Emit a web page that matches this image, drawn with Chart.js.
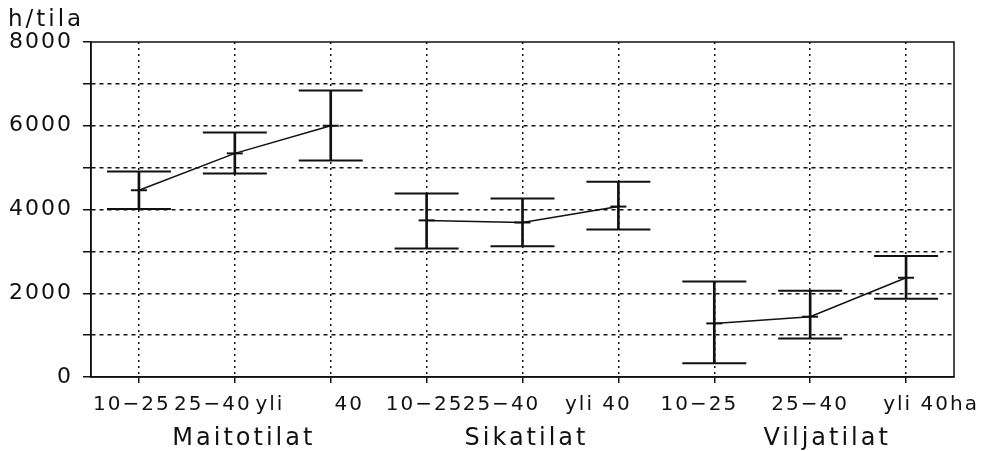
<!DOCTYPE html>
<html>
<head>
<meta charset="utf-8">
<script src="https://cdn.jsdelivr.net/npm/chart.js@4/dist/chart.umd.min.js"></script>
<style>
  body { margin: 0; background: #fff; }
</style>
</head>
<body>
<canvas id="chart" width="1003" height="451"></canvas>
<script>
// ===== DATA =====
const categories = ['10−25', '25−40', 'yli      40', '10−25', '25−40', 'yli 40', '10−25', '25−40', 'yli 40ha']
const groups = ['Maitotilat', 'Sikatilat', 'Viljatilat']
const means = [4460, 5340, 6000, 3740, 3690, 4070, 1280, 1440, 2370]
const upper = [4910, 5840, 6840, 4380, 4260, 4660, 2280, 2060, 2890]
const lower = [4010, 4860, 5170, 3070, 3120, 3520, 330, 920, 1870]
const yTicks = [0, 2000, 4000, 6000, 8000]
const yTitle = 'h/tila'

const FONT = 'DejaVu Sans'
const INK = '#111'

// the label row under the axis is typed as one line in the original,
// so each label sits a little off its tick
const labelShift = [-7, -22, -21, -2, -21, -20, -15, 0, 25]
const groupShift = [9, 4, 17]

// mean line, one dataset per group
const meanSets = groups.map((g, gi) => ({
  type: 'line',
  label: g,
  data: means.map((v, i) => Math.floor(i / 3) === gi ? v : null),
  borderColor: INK,
  borderWidth: 1.5,
  pointStyle: 'line',
  pointRadius: 8,
  pointBorderWidth: 2,
  pointBorderColor: INK,
  spanGaps: false,
  tension: 0
}))

// caps at upper / lower
const capSet = (vals) => ({
  type: 'line',
  data: vals,
  showLine: false,
  pointStyle: 'line',
  pointRadius: 32,
  pointBorderWidth: 2,
  pointBorderColor: INK
})

// letter spacing for the wide font look
const spacing = {
  id: 'spacing',
  beforeUpdate(chart) { chart.ctx.letterSpacing = '2px' },
  beforeDraw(chart) { chart.ctx.letterSpacing = '2px' }
}

// frame, x labels, titles
const extras = {
  id: 'extras',
  afterDraw(chart) {
    const { ctx, chartArea: a, scales: { x } } = chart
    ctx.save()
    ctx.strokeStyle = INK
    ctx.lineWidth = 1.5
    ctx.strokeRect(a.left, a.top, a.right - a.left, a.bottom - a.top)

    ctx.fillStyle = INK
    ctx.textBaseline = 'alphabetic'

    ctx.letterSpacing = '2px'
    ctx.font = '20px "' + FONT + '"'
    ctx.textAlign = 'center'
    categories.forEach((c, i) => {
      ctx.fillText(c, x.getPixelForValue(i) + labelShift[i], 410)
    })

    ctx.letterSpacing = '3px'
    ctx.font = '23px "' + FONT + '"'
    ctx.textAlign = 'left'
    ctx.fillText(yTitle, 8, 26)

    ctx.font = '24px "' + FONT + '"'
    ctx.textAlign = 'center'
    groups.forEach((g, gi) => {
      const px = x.getPixelForValue(gi * 3 + 1)
      ctx.fillText(g, px + groupShift[gi], 445)
    })
    ctx.restore()
  }
}

new Chart(document.getElementById('chart'), {
  type: 'bar',
  data: {
    labels: categories,
    datasets: [
      {
        type: 'bar',
        data: lower.map((l, i) => [l, upper[i]]),
        backgroundColor: INK,
        barThickness: 2
      },
      capSet(upper),
      capSet(lower),
      ...meanSets
    ]
  },
  options: {
    responsive: false,
    animation: false,
    devicePixelRatio: 1,
    layout: { padding: { top: 42, right: 49, left: 0, bottom: 0 } },
    plugins: {
      legend: { display: false },
      tooltip: { enabled: false }
    },
    scales: {
      x: {
        offset: true,
        afterFit(scale) { scale.height = 74 },
        grid: {
          offset: false,
          color: INK,
          lineWidth: 1.5,
          tickLength: 6,
          tickColor: INK,
          tickWidth: 1.5,
          tickBorderDash: []
        },
        border: { display: true, color: INK, width: 1.5, dash: [2, 4] },
        ticks: {
          color: INK,
          font: { family: FONT, size: 20 },
          autoSkip: false,
          maxRotation: 0,
          callback: () => ''
        }
      },
      y: {
        min: 0,
        max: 8000,
        afterFit(scale) { scale.width = 91 },
        grid: {
          color: (c) => (c.tick && (c.tick.value === 0 || c.tick.value === 8000)) ? 'rgba(0,0,0,0)' : INK,
          lineWidth: 1.5,
          tickLength: 8,
          tickColor: INK,
          tickWidth: 1.5,
          tickBorderDash: []
        },
        border: { display: true, color: INK, width: 1.5, dash: [4, 4] },
        ticks: {
          stepSize: 1000,
          color: INK,
          font: { family: FONT, size: 22 },
          padding: 10,
          callback: (v) => yTicks.includes(v) ? String(v) : ''
        }
      }
    }
  },
  plugins: [spacing, extras]
})
</script>
</body>
</html>
